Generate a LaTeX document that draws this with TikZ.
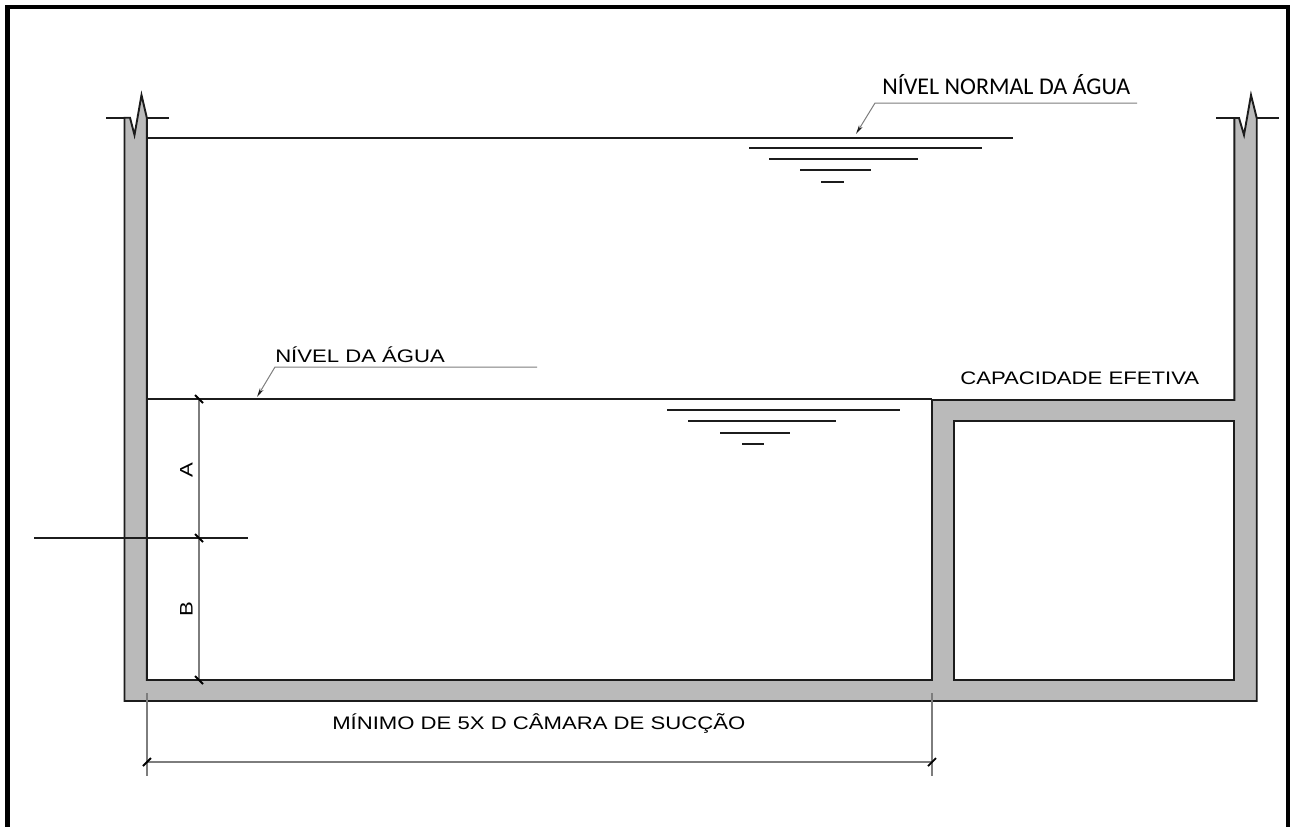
\documentclass[tikz,border=0pt]{standalone}
\usepackage{fontspec}
\setmainfont[FakeStretch=1.22]{Liberation Sans}
\newfontfamily\calfont{Carlito}
\usetikzlibrary{arrows.meta}
\definecolor{wallgray}{RGB}{186,186,186}
\definecolor{dimgray}{RGB}{125,125,125}
\definecolor{inkc}{RGB}{28,28,28}
\tikzset{
  wall/.style={draw=inkc,line width=1.9pt*0.75,fill=wallgray,line join=miter},
  level/.style={draw=inkc,line width=1.9pt*0.75},
  dimline/.style={draw=dimgray,line width=1.2pt*0.75},
  tick/.style={draw=black,line width=1.8pt*0.75},
  leader/.style={draw=dimgray,line width=1pt*0.75,-{Stealth[length=7pt,width=3pt,color=inkc]}},
  arial/.style={font=\fontsize{13.6pt}{15pt}\selectfont,text=black,inner sep=0pt},
  cal/.style={font=\calfont\fontsize{18pt}{21pt}\selectfont,text=black,inner sep=0pt}
}
\begin{document}
\begin{tikzpicture}[x=0.75pt,y=-0.75pt]
\useasboundingbox (0,0) rectangle (1291,826);
% frame
\draw[black,line width=4.5pt*0.75,line join=miter] (7.5,830) -- (7.5,7) -- (1288,7) -- (1288,830);
% wall section
\draw[wall] (124.5,117.7) -- (124.5,701) -- (1256.7,701) -- (1256.7,118)
  -- (1251,95) -- (1244,135) -- (1239,118) -- (1234.3,118) -- (1234.3,400) -- (932,400)
  -- (932,680) -- (146.8,680) -- (146.8,117.7) -- (141.5,95) -- (134.5,135) -- (130,117.7) -- cycle;
\draw[draw=inkc,fill=white,line width=1.9pt*0.75] (954,421) rectangle (1234.3,680);
% break marks
\draw[level] (106,117.7) -- (124.5,117.7) (146.8,117.7) -- (169,117.7);
\draw[level] (1216,118) -- (1234.3,118) (1256.7,118) -- (1279,118);
% water levels
\draw[level] (146.8,138) -- (1013,138);
\draw[level] (749,148) -- (982,148) (769,159) -- (918,159) (800,170) -- (871,170) (821,182) -- (844,182);
\draw[level] (146.8,399) -- (932,399);
\draw[level] (667,410) -- (900,410) (688,421) -- (836,421) (720,433) -- (790,433) (742,444) -- (764,444);
\draw[level] (34,538) -- (248,538);
% leaders
\coordinate (n1a) at (1137,103); \coordinate (n1b) at (875,103); \coordinate (n1c) at (856,134);
\coordinate (n2a) at (537,367); \coordinate (n2b) at (275,367); \coordinate (n2c) at (257,397);
\draw[leader] (n1a) -- (n1b) -- (n1c);
\draw[leader] (n2a) -- (n2b) -- (n2c);
% dimensions
\coordinate (d1) at (199,399); \coordinate (d2) at (199,538); \coordinate (d3) at (199,680);
\coordinate (h1) at (147,762); \coordinate (h2) at (932,762);
\draw[dimline] (d1) -- (d2) -- (d3);
\draw[dimline] (147,693) -- (147,776) (932,693) -- (932,776);
\draw[dimline] (h1) -- (h2);
\foreach \p in {d1,d2,d3}{\draw[tick] ([xshift=-4*0.75pt,yshift=4*0.75pt]\p) -- ([xshift=4*0.75pt,yshift=-4*0.75pt]\p);}
\foreach \p in {h1,h2}{\draw[tick] ([xshift=-4*0.75pt,yshift=-4*0.75pt]\p) -- ([xshift=4*0.75pt,yshift=4*0.75pt]\p);}
% text
\node[cal,anchor=base west] (t1) at (882,94) {NÍVEL NORMAL DA ÁGUA};
\node[arial,anchor=base west] (t2) at (275,362) {NÍVEL DA ÁGUA};
\node[arial,anchor=base west] (t3) at (960,384) {CAPACIDADE EFETIVA};
\node[arial,anchor=base west] (t4) at (332,729) {MÍNIMO DE 5X D CÂMARA DE SUCÇÃO};
\node[arial,rotate=90] (ta) at (186.5,470) {A};
\node[arial,rotate=90] (tb) at (186.5,609) {B};
\end{tikzpicture}
\end{document}
